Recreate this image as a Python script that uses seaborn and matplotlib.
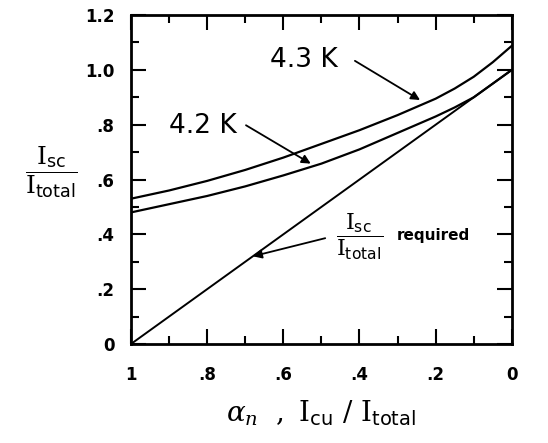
import numpy as np
import pandas as pd
import matplotlib
matplotlib.use('Agg')
import matplotlib.pyplot as plt
from matplotlib.ticker import MultipleLocator, FixedLocator
import seaborn as sns

# --- Datos ---
alpha_n = [1.0, 0.9, 0.8, 0.7, 0.6, 0.5, 0.4, 0.3, 0.2, 0.15, 0.1, 0.05, 0.0]
isc_43k = [0.53, 0.56, 0.595, 0.635, 0.68, 0.73, 0.78, 0.835, 0.895, 0.932, 0.975, 1.028, 1.088]
isc_42k = [0.48, 0.51, 0.54, 0.575, 0.615, 0.658, 0.71, 0.77, 0.83, 0.863, 0.90, 0.95, 1.0]
req_x = [1.0, 0.0]
req_y = [0.0, 1.0]

x_ticks = [1.0, 0.8, 0.6, 0.4, 0.2, 0.0]
x_labels = ['1', '.8', '.6', '.4', '.2', '0']
y_ticks = [0.0, 0.2, 0.4, 0.6, 0.8, 1.0, 1.2]
y_labels = ['0', '.2', '.4', '.6', '.8', '1.0', '1.2']

sns.set_style('ticks')
plt.rcParams['font.family'] = ['DejaVu Sans']
plt.rcParams['text.color'] = 'black'
plt.rcParams['axes.labelcolor'] = 'black'
plt.rcParams['xtick.color'] = 'black'
plt.rcParams['ytick.color'] = 'black'
plt.rcParams['mathtext.fontset'] = 'custom'
plt.rcParams['mathtext.rm'] = 'DejaVu Serif'
plt.rcParams['mathtext.sf'] = 'DejaVu Sans'
plt.rcParams['mathtext.it'] = 'DejaVu Serif:italic'

fig = plt.figure(figsize=(5.48, 4.43), dpi=100)
ax = fig.add_axes([0.239, 0.2235, 0.695, 0.7425])

df = pd.DataFrame({'x': alpha_n, '43': isc_43k, '42': isc_42k})
sns.lineplot(data=df, x='x', y='43', color='black', lw=1.6, ax=ax)
sns.lineplot(data=df, x='x', y='42', color='black', lw=1.6, ax=ax)
sns.lineplot(x=req_x, y=req_y, color='black', lw=1.4, ax=ax)

ax.set_xlim(1.0, 0.0)
ax.set_ylim(0.0, 1.2)

ax.xaxis.set_major_locator(FixedLocator(x_ticks))
ax.set_xticklabels(x_labels, fontweight='bold')
ax.xaxis.set_minor_locator(MultipleLocator(0.1))
ax.yaxis.set_major_locator(FixedLocator(y_ticks))
ax.set_yticklabels(y_labels, fontweight='bold')
ax.yaxis.set_minor_locator(MultipleLocator(0.1))

ax.tick_params(which='both', direction='in', top=True, right=True, width=1.5)
ax.tick_params(which='major', length=11, labelsize=12, pad=12)
ax.tick_params(which='minor', length=6)
ax.tick_params(axis='x', which='major', pad=16)
for s in ax.spines.values():
    s.set_linewidth(2)
    s.set_color('black')

ax.set_xlabel(r'$\alpha_n\ \ ,\ \mathrm{I}_{\mathsf{cu}}\ /\ \mathrm{I}_{\mathsf{total}}$', fontsize=20, labelpad=10)
ax.set_ylabel('')

# Etiqueta del eje y como fracción
ax.text(1.21, 0.625, r'$\dfrac{\mathrm{I}_{\mathsf{sc}}}{\mathrm{I}_{\mathsf{total}}}$', fontsize=18,
        ha='center', va='center', clip_on=False)

# Anotaciones de las curvas
arrow = dict(arrowstyle='-|>', color='black', lw=1.3, mutation_scale=13, shrinkA=0, shrinkB=0)
ax.text(0.546, 1.037, '4.3 K', fontsize=19, ha='center', va='center')
ax.annotate('', xy=(0.241, 0.89), xytext=(0.412, 1.033), arrowprops=arrow)
ax.text(0.811, 0.794, '4.2 K', fontsize=19, ha='center', va='center')
ax.annotate('', xy=(0.528, 0.658), xytext=(0.698, 0.798), arrowprops=arrow)

ax.text(0.40, 0.39, r'$\dfrac{\mathrm{I}_{\mathsf{sc}}}{\mathrm{I}_{\mathsf{total}}}$', fontsize=16,
        ha='center', va='center')
ax.text(0.205, 0.395, 'required', fontsize=11, fontweight='bold', ha='center', va='center')
ax.annotate('', xy=(0.68, 0.32), xytext=(0.49, 0.386), arrowprops=arrow)

fig.savefig('out.png', dpi=100)
